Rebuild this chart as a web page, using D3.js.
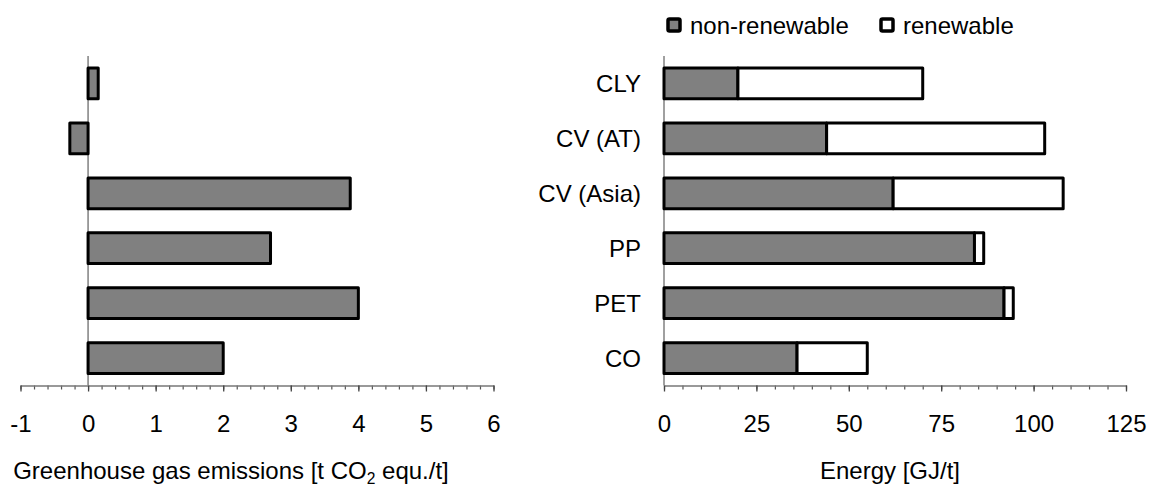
<!DOCTYPE html>
<html>
<head>
<meta charset="utf-8">
<script src="https://cdn.jsdelivr.net/npm/d3@7"></script>
<style>
  body { margin: 0; background: #fff; }
  svg { font-family: "Liberation Sans", Arial, sans-serif; }
</style>
</head>
<body>
<svg id="chart" width="1153" height="486"></svg>
<script>
// categories (top to bottom)
const categories = ["CLY", "CV (AT)", "CV (Asia)", "PP", "PET", "CO"];

// greenhouse gas emissions [t CO2 equ./t]
const ghgValues = [0.15, -0.27, 3.88, 2.70, 4.00, 2.00];

// energy [GJ/t]
const nonRenewable = [20, 44, 62, 84, 92, 36];
const renewable = [50, 59, 46, 2.5, 2.5, 19];

const ghgTicks = [-1, 0, 1, 2, 3, 4, 5, 6];
const energyTicks = [0, 25, 50, 75, 100, 125];

const seriesNames = ["non-renewable", "renewable"];
const seriesColors = ["#808080", "#ffffff"];

// layout
const fontSize = 24;
const axisY = 385.5;
const plotTop = 56;

const svg = d3.select("#chart");

// shared band scale for the rows
const y = d3.scaleBand()
  .domain(categories)
  .range([plotTop, axisY])
  .paddingInner(0.44)
  .paddingOuter(0.22);

// x scales
const xGhg = d3.scaleLinear().domain([-1, 6]).range([20.5, 493.5]);
const xEnergy = d3.scaleLinear().domain([0, 125]).range([664, 1126]);

/**
 * draws an x axis with major and minor ticks
 */
function drawAxis(scale, majorTicks, minorStep) {
  const [d0, d1] = scale.domain();
  const minor = d3.range(d0, d1 + minorStep / 2, minorStep);

  const gMinor = svg.append("g")
    .attr("transform", `translate(0,${axisY})`)
    .call(d3.axisBottom(scale).tickValues(minor).tickSize(4).tickSizeOuter(0).tickFormat(""));
  gMinor.select(".domain").remove();
  gMinor.selectAll("line").attr("stroke", "#555").attr("stroke-width", 1.2);

  const gMajor = svg.append("g")
    .attr("transform", `translate(0,${axisY})`)
    .call(d3.axisBottom(scale).tickValues(majorTicks).tickSize(6).tickSizeOuter(0)
      .tickPadding(23).tickFormat(d => String(d)));
  gMajor.select(".domain").attr("stroke", "#777").attr("stroke-width", 1.3);
  gMajor.selectAll("line").attr("stroke", "#444").attr("stroke-width", 1.3);
  gMajor.selectAll("text")
    .attr("font-size", fontSize)
    .attr("font-family", "Liberation Sans, Arial, sans-serif")
    .attr("fill", "#000");
}

// ---------- left chart: greenhouse gas emissions ----------
drawAxis(xGhg, ghgTicks, 0.2);

// zero line
svg.append("line")
  .attr("x1", xGhg(0)).attr("x2", xGhg(0))
  .attr("y1", plotTop).attr("y2", axisY)
  .attr("stroke", "#808080").attr("stroke-width", 1.5);

svg.append("g")
  .selectAll("rect")
  .data(categories)
  .join("rect")
    .attr("x", (d, i) => xGhg(Math.min(0, ghgValues[i])))
    .attr("width", (d, i) => Math.abs(xGhg(ghgValues[i]) - xGhg(0)))
    .attr("y", d => y(d))
    .attr("height", y.bandwidth())
    .attr("fill", seriesColors[0])
    .attr("stroke", "#000")
    .attr("stroke-width", 3)
    .attr("stroke-linejoin", "round");

// left axis title with subscript
const ghgTitle = svg.append("text")
  .attr("x", 231)
  .attr("y", 479)
  .attr("text-anchor", "middle")
  .attr("font-size", fontSize);
ghgTitle.append("tspan").text("Greenhouse gas emissions [t CO");
ghgTitle.append("tspan").attr("font-size", fontSize * 0.65).attr("dy", 5).text("2");
ghgTitle.append("tspan").attr("dy", -5).text(" equ./t]");

// ---------- right chart: energy ----------
drawAxis(xEnergy, energyTicks, 5);

svg.append("line")
  .attr("x1", xEnergy(0)).attr("x2", xEnergy(0))
  .attr("y1", plotTop).attr("y2", axisY)
  .attr("stroke", "#808080").attr("stroke-width", 1.5);

const stackData = categories.map((c, i) => ({ cat: c, nonren: nonRenewable[i], ren: renewable[i] }));
const stack = d3.stack().keys(["nonren", "ren"])(stackData);

svg.append("g")
  .selectAll("g")
  .data(stack)
  .join("g")
    .attr("fill", (d, i) => seriesColors[i])
  .selectAll("rect")
  .data(d => d)
  .join("rect")
    .attr("x", d => xEnergy(d[0]))
    .attr("width", d => xEnergy(d[1]) - xEnergy(d[0]))
    .attr("y", d => y(d.data.cat))
    .attr("height", y.bandwidth())
    .attr("stroke", "#000")
    .attr("stroke-width", 3)
    .attr("stroke-linejoin", "round");

// category labels
svg.append("g")
  .selectAll("text")
  .data(categories)
  .join("text")
    .attr("x", 641)
    .attr("y", d => y(d) + y.bandwidth() / 2)
    .attr("dy", "0.36em")
    .attr("text-anchor", "end")
    .attr("font-size", fontSize)
    .text(d => d);

// right axis title
svg.append("text")
  .attr("x", 890)
  .attr("y", 479)
  .attr("text-anchor", "middle")
  .attr("font-size", fontSize)
  .text("Energy [GJ/t]");

// legend
const legendX = [668, 881];
const legend = svg.append("g")
  .selectAll("g")
  .data(seriesNames)
  .join("g")
    .attr("transform", (d, i) => `translate(${legendX[i]},19)`);

legend.append("rect")
  .attr("width", 12).attr("height", 12)
  .attr("rx", 1.5)
  .attr("fill", (d, i) => seriesColors[i])
  .attr("stroke", "#000")
  .attr("stroke-width", 3.5);

legend.append("text")
  .attr("x", 22)
  .attr("y", 6)
  .attr("dy", "0.36em")
  .attr("font-size", fontSize)
  .text(d => d);
</script>
</body>
</html>
